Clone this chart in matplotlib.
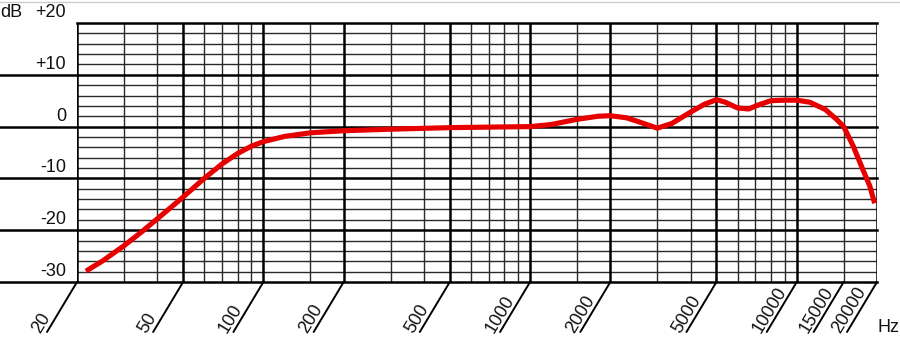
"""
Microphone frequency response chart on a log-frequency grid.
"""

import matplotlib
matplotlib.use("Agg")
import matplotlib.pyplot as plt
from matplotlib.lines import Line2D

plt.rcParams["font.family"] = ["Liberation Sans", "DejaVu Sans"]

# Response curve (Hz, dB)
freq_hz = [21.6, 25, 30, 35, 40, 45, 50, 60, 70, 80, 90, 100, 120, 150, 200,
           300, 500, 700, 1000, 1200, 1500, 1800, 2000, 2300, 2600, 3000,
           3400, 4000, 4500, 5000, 5400, 6000, 6600, 7200, 8000, 9000, 10000,
           11200, 12800, 14100, 15000, 16300, 17700, 18800, 19600]
level_db = [-27.9, -25.9, -23.0, -20.3, -17.8, -15.6, -13.6, -10.0, -7.2, -5.2,
            -3.8, -2.9, -1.9, -1.2, -0.8, -0.5, -0.2, -0.1, 0.0, 0.4, 1.4, 2.0,
            2.1, 1.7, 0.8, -0.3, 0.6, 2.8, 4.3, 5.2, 4.7, 3.6, 3.4, 4.2, 5.0,
            5.1, 5.1, 4.7, 3.3, 1.4, 0.0, -3.8, -8.3, -11.5, -14.8]

# Grid definition
major_freqs = [20, 50, 100, 200, 500, 1000, 2000, 5000, 10000, 20000]
minor_freqs = [30, 40, 60, 70, 80, 90, 150, 300, 400, 600, 700, 800, 900,
               1500, 3000, 4000, 6000, 7000, 8000, 9000, 15000]
freq_labels = [20, 50, 100, 200, 500, 1000, 2000, 5000, 10000, 15000, 20000]
db_labels = [20, 10, 0, -10, -20, -30]
db_label_text = ["+20", "+10", "0", "-10", "-20", "-30"]

fig = plt.figure(figsize=(9, 3.52), dpi=100)
ax = fig.add_axes([77 / 900, 1 - 282 / 352, 800 / 900, 259 / 352])
ax.set_xscale("log")
ax.set_xlim(20, 20000)
ax.set_ylim(-30, 20)
ax.axis("off")

# horizontal grid: every 2 dB, heavier every 10 dB
for v in range(-30, 21, 2):
    if v % 10 == 0:
        xmin = 0 if v == 20 else -77 / 800
        ax.axhline(v, xmin=xmin, xmax=1, color="#000000", lw=1.8, clip_on=False, zorder=2)
    else:
        ax.axhline(v, color="#2a2a2a", lw=1.0, zorder=1)

# vertical grid
ax.vlines(minor_freqs, -30, 20, color="#2a2a2a", lw=1.0, zorder=1)
ax.vlines(major_freqs, -30, 20, color="#000000", lw=1.8, zorder=2)

# slanted frequency ticks and labels
for f in freq_labels:
    ax.annotate("", xy=(f, -30), xycoords="data", xytext=(-30, -50),
                textcoords="offset pixels", annotation_clip=False,
                arrowprops=dict(arrowstyle="-", lw=1.4, color="#000000",
                                shrinkA=0, shrinkB=0))
    ax.annotate(str(f), xy=(f, -30), xycoords="data", xytext=(-33, -54),
                textcoords="offset pixels", rotation=59, rotation_mode="anchor",
                ha="left", va="bottom", fontsize=13, color="#111111",
                annotation_clip=False)

# dB labels on the left
for v, txt in zip(db_labels, db_label_text):
    ax.annotate(txt, xy=(20, v), xycoords="data", xytext=(-11, 2),
                textcoords="offset pixels", ha="right", va="bottom",
                fontsize=13, color="#111111", annotation_clip=False)
ax.annotate("dB", xy=(20, 20), xycoords="data", xytext=(-77, 2),
            textcoords="offset pixels", ha="left", va="bottom",
            fontsize=13, color="#111111", annotation_clip=False)
ax.annotate("Hz", xy=(20000, -30), xycoords="data", xytext=(1, -54),
            textcoords="offset pixels", ha="left", va="bottom",
            fontsize=13, color="#111111", annotation_clip=False)

# response curve
ax.plot(freq_hz, level_db, color="#e60000", lw=3.7, solid_capstyle="butt",
        solid_joinstyle="round", zorder=5)

# thin frame line at the very top of the picture
fig.add_artist(Line2D([0, 1], [1 - 1.5 / 352, 1 - 1.5 / 352],
                      color="#cccccc", lw=1))

fig.savefig("out.png", dpi=100, facecolor="white")
